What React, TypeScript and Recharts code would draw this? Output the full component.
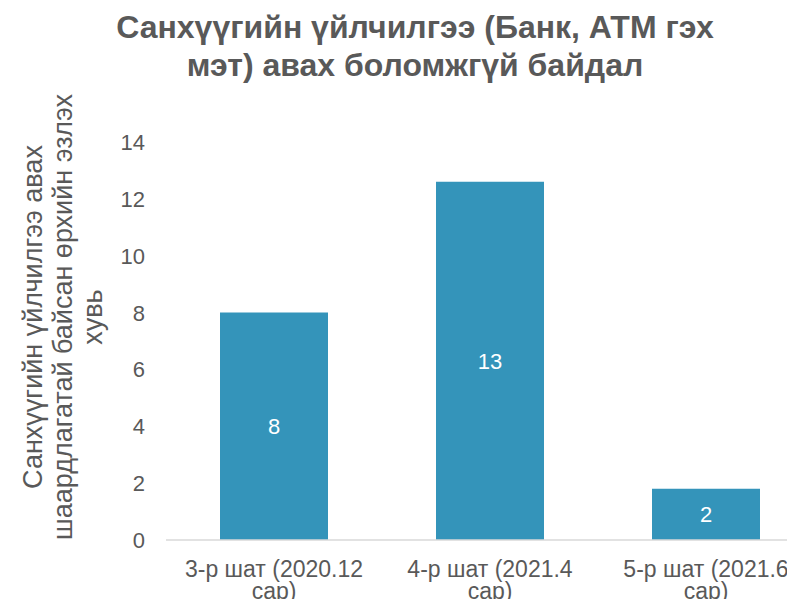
import { BarChart, Bar, XAxis, YAxis, LabelList } from 'recharts';

const stages = ['3-р шат (2020.12 сар)', '4-р шат (2021.4 сар)', '5-р шат (2021.6 сар)'];
const stageLines = [
  ['3-р шат (2020.12', 'сар)'],
  ['4-р шат (2021.4', 'сар)'],
  ['5-р шат (2021.6', 'сар)'],
];
const shares = [8.0, 12.6, 1.8];
const yTicks = [0, 2, 4, 6, 8, 10, 12, 14];
const titleLines = ['Санхүүгийн үйлчилгээ (Банк, АТМ гэх', 'мэт) авах боломжгүй байдал'];
const yLabelLines = ['Санхүүгийн үйлчилгээ авах', 'шаардлагатай байсан өрхийн эзлэх', 'хувь'];

const data = stages.map((s, i) => ({ stage: s, idx: i, value: shares[i] }));

const FONT = '"Liberation Sans", Arial, sans-serif';
const GREY = '#595959';

function XTick({ x, payload }: any) {
  const lines = stageLines[payload.index] ?? [payload.value];
  return (
    <text x={x} textAnchor="middle" fill={GREY} fontSize={23} fontFamily={FONT}>
      {lines.map((l, i) => (
        <tspan key={i} x={x} y={577 + i * 22}>
          {l}
        </tspan>
      ))}
    </text>
  );
}

function YTick({ y, payload }: any) {
  return (
    <text x={145} y={y + 8} textAnchor="end" fill={GREY} fontSize={22} fontFamily={FONT}>
      {payload.value}
    </text>
  );
}

export default function App() {
  return (
    <div style={{ position: 'relative', margin: -8, width: 795, height: 607, overflow: 'hidden', background: '#fff' }}>
      <BarChart
        width={830}
        height={607}
        data={data}
        margin={{ top: 142, right: 16, left: 0, bottom: 0 }}
        barCategoryGap="25%"
      >
        <XAxis
          dataKey="stage"
          height={67}
          tickLine={false}
          axisLine={{ stroke: '#d9d9d9', strokeWidth: 1.5 }}
          interval={0}
          tick={<XTick />}
        />
        <YAxis
          width={166}
          domain={[0, 14]}
          ticks={yTicks}
          axisLine={false}
          tickLine={false}
          tick={<YTick />}
        />
        <Bar dataKey="value" fill="#3494ba" isAnimationActive={false}>
          <LabelList
            dataKey="value"
            position="center"
            fill="#ffffff"
            fontSize={22}
            fontFamily={FONT}
            formatter={(v: any) => Math.round(Number(v))}
          />
        </Bar>
      </BarChart>
      <svg width={830} height={607} style={{ position: 'absolute', left: 0, top: 0, pointerEvents: 'none' }}>
        {titleLines.map((t, i) => (
          <text
            key={i}
            x={415}
            y={38 + i * 38}
            textAnchor="middle"
            fill={GREY}
            fontSize={32}
            fontWeight="bold"
            fontFamily={FONT}
          >
            {t}
          </text>
        ))}
        <text
          transform="rotate(-90, 42, 317)"
          x={42}
          y={317}
          textAnchor="middle"
          fill={GREY}
          fontSize={27}
          fontFamily={FONT}
        >
          {yLabelLines.map((l, i) => (
            <tspan key={i} x={42} y={317 + i * 30}>
              {l}
            </tspan>
          ))}
        </text>
      </svg>
    </div>
  );
}
